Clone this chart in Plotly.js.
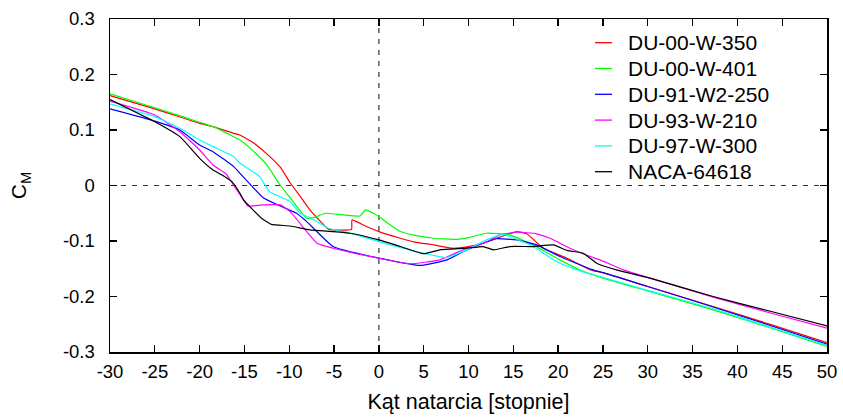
<!DOCTYPE html>
<html>
<head>
<meta charset="utf-8">
<script src="https://cdn.plot.ly/plotly-3.0.1.min.js"></script>
<style>html,body{margin:0;padding:0;background:#fff;}#chart{width:843px;height:417px;}</style>
</head>
<body>
<div id="chart"></div>
<script>
const seriesNames = ["DU-00-W-350", "DU-00-W-401", "DU-91-W2-250", "DU-93-W-210", "DU-97-W-300", "NACA-64618"];
const seriesColors = ["#ff0000", "#00ff00", "#0000ff", "#ff00ff", "#00ffff", "#000000"];

const du00w350_x = [-30, -25, -20, -18.5, -16.2, -15.5, -14, -12.5, -11, -9.9, -8.4, -7.7, -6.5, -5.6, -3.05, -3.0, -1.5, 0, 2.4, 4, 6.1, 8.2, 10, 11.65, 13.5, 15.4, 16.5, 18.35, 21, 23.6, 25, 30, 37.3, 44, 50];
const du00w350_y = [0.162, 0.138, 0.112, 0.106, 0.094, 0.091, 0.077, 0.057, 0.033, 0.005, -0.028, -0.044, -0.065, -0.079, -0.079, -0.062, -0.073, -0.083, -0.095, -0.102, -0.107, -0.113, -0.110, -0.104, -0.093, -0.083, -0.087, -0.113, -0.131, -0.152, -0.157, -0.182, -0.218, -0.252, -0.283];

const du00w401_x = [-30, -25, -20, -18.5, -16.2, -15.5, -14, -12.5, -11, -9.9, -8.05, -7.1, -6.0, -4, -2.1, -1.5, -0.5, 0, 1, 2.4, 4, 6.1, 8.7, 10, 12.0, 14.6, 17.2, 20.2, 22.4, 24.67, 30, 37.3, 44, 50];
const du00w401_y = [0.165, 0.140, 0.114, 0.106, 0.088, 0.082, 0.062, 0.037, 0.000, -0.022, -0.059, -0.057, -0.050, -0.053, -0.055, -0.044, -0.051, -0.056, -0.068, -0.083, -0.090, -0.095, -0.097, -0.094, -0.086, -0.089, -0.107, -0.134, -0.152, -0.165, -0.190, -0.224, -0.258, -0.290];

const du91w2250_x = [-30, -25, -22.2, -20, -18.5, -16.2, -15.5, -12.9, -11.0, -9.2, -8.05, -5.1, 0, 4.6, 7.6, 9.8, 11.65, 13.1, 15.4, 17.6, 20.2, 23.9, 25, 30, 37.3, 44, 50];
const du91w2250_y = [0.138, 0.116, 0.100, 0.073, 0.061, 0.034, 0.022, -0.022, -0.037, -0.050, -0.065, -0.110, -0.131, -0.144, -0.134, -0.116, -0.104, -0.096, -0.098, -0.107, -0.128, -0.152, -0.157, -0.182, -0.219, -0.254, -0.286];

const du93w210_x = [-30, -25, -22.2, -20, -18.5, -17.0, -16.6, -15.1, -14.6, -13, -11.0, -9.9, -6.9, -5.1, 0, 3.5, 6.8, 9.8, 11.65, 13.5, 15.4, 17.6, 19.1, 21.3, 23.6, 24.67, 27.3, 30.25, 37.3, 44, 50];
const du93w210_y = [0.152, 0.127, 0.097, 0.064, 0.037, 0.020, 0.010, -0.026, -0.037, -0.035, -0.035, -0.047, -0.104, -0.113, -0.131, -0.141, -0.134, -0.113, -0.104, -0.089, -0.084, -0.087, -0.095, -0.113, -0.128, -0.134, -0.152, -0.167, -0.201, -0.231, -0.257];

const du97w300_x = [-30, -25, -22.2, -20, -18.5, -16.2, -15.5, -13.3, -12.2, -9.9, -8.8, -7.7, -5.6, -3.2, 0, 4.2, 7.5, 9.8, 12.0, 13.9, 17.2, 19.8, 22.1, 24.67, 30, 37.3, 44, 50];
const du97w300_y = [0.147, 0.124, 0.103, 0.082, 0.070, 0.052, 0.040, 0.016, -0.011, -0.029, -0.050, -0.058, -0.077, -0.086, -0.101, -0.119, -0.130, -0.116, -0.098, -0.088, -0.110, -0.137, -0.152, -0.164, -0.189, -0.222, -0.257, -0.288];

const naca64618_x = [-30, -25, -22.2, -20, -18.5, -17.5, -16.4, -15.5, -15.1, -13.1, -12.0, -9.9, -7.7, -5.1, -3.2, 0, 2.4, 5.0, 6.8, 9.8, 11.65, 12.8, 14.6, 17.2, 19.5, 21.0, 22.8, 24.3, 26.5, 30.25, 37.3, 44, 50];
const naca64618_y = [0.155, 0.115, 0.088, 0.049, 0.028, 0.019, 0.007, -0.014, -0.026, -0.059, -0.070, -0.073, -0.080, -0.083, -0.086, -0.098, -0.110, -0.123, -0.116, -0.113, -0.110, -0.116, -0.110, -0.110, -0.107, -0.117, -0.122, -0.140, -0.152, -0.167, -0.200, -0.228, -0.253];

const xTickVals = [-30, -25, -20, -15, -10, -5, 0, 5, 10, 15, 20, 25, 30, 35, 40, 45, 50];
const xTickText = ["-30", "-25", "-20", "-15", "-10", "-5", "0", "5", "10", "15", "20", "25", "30", "35", "40", "45", "50"];
const yTickVals = [-0.3, -0.2, -0.1, 0, 0.1, 0.2, 0.3];
const yTickText = ["-0.3", "-0.2", "-0.1", "0", "0.1", "0.2", "0.3"];

const xs = [du00w350_x, du00w401_x, du91w2250_x, du93w210_x, du97w300_x, naca64618_x];
const ys = [du00w350_y, du00w401_y, du91w2250_y, du93w210_y, du97w300_y, naca64618_y];

const FONT = "Liberation Sans, Arial, Helvetica, sans-serif";

const traces = seriesNames.map((n, i) => ({
  type: "scatter",
  mode: "lines",
  name: n,
  x: xs[i],
  y: ys[i],
  line: {color: seriesColors[i], width: 1.2, shape: "spline", smoothing: 0.4}
}));

// key (legend) placed in the upper right of the plot area, drawn as text + short line samples
const W = 843, H = 417, ML = 110, MR = 16, MT = 19, MB = 65;
const pw = W - ML - MR, ph = H - MT - MB;
const keyTextX = (626 - ML) / pw;
const keyLineX0 = (595 - ML) / pw, keyLineX1 = (612 - ML) / pw;
const keyRow = (i) => (H - MB - (42.7 + i * 25.8)) / ph;

const annotations = seriesNames.map((n, i) => ({
  xref: "paper", yref: "paper", x: keyTextX, y: keyRow(i),
  xanchor: "left", yanchor: "middle", showarrow: false,
  text: n, font: {family: FONT, size: 21, color: "#000000"}
}));

const shapes = [
  {type: "line", xref: "x", yref: "paper", x0: 0, x1: 0, y0: 0, y1: 1, line: {color: "#333333", width: 1.2, dash: "5px,6px"}, layer: "below"},
  {type: "line", xref: "paper", yref: "y", x0: 0, x1: 1, y0: 0, y1: 0, line: {color: "#333333", width: 1.2, dash: "5px,6px"}, layer: "below"}
].concat(seriesNames.map((n, i) => ({
  type: "line", xref: "paper", yref: "paper",
  x0: keyLineX0, x1: keyLineX1, y0: keyRow(i), y1: keyRow(i),
  line: {color: seriesColors[i], width: 1.3}
})));

const layout = {
  width: W,
  height: H,
  margin: {l: ML, r: MR, t: MT, b: MB},
  paper_bgcolor: "#ffffff",
  plot_bgcolor: "#ffffff",
  font: {family: FONT, color: "#000000", size: 18.5},
  showlegend: false,
  xaxis: {
    range: [-30, 50],
    tickmode: "array",
    tickvals: xTickVals,
    ticktext: xTickText,
    ticks: "inside",
    ticklen: 7,
    tickwidth: 1.3,
    tickcolor: "#000000",
    mirror: "allticks",
    showline: true,
    linecolor: "#000000",
    linewidth: 1.5,
    showgrid: false,
    zeroline: false,
    tickfont: {family: FONT, size: 18.5, color: "#000000"},
    ticklabelstandoff: 2,
    title: {text: "Kąt natarcia [stopnie]", font: {family: FONT, size: 21.5, color: "#000000"}, standoff: 13}
  },
  yaxis: {
    range: [-0.3, 0.3],
    tickmode: "array",
    tickvals: yTickVals,
    ticktext: yTickText,
    ticks: "inside",
    ticklen: 7,
    tickwidth: 1.3,
    tickcolor: "#000000",
    mirror: "allticks",
    showline: true,
    linecolor: "#000000",
    linewidth: 1.5,
    showgrid: false,
    zeroline: false,
    tickfont: {family: FONT, size: 18.5, color: "#000000"},
    ticklabelstandoff: 10,
    title: {text: "C<sub>M</sub>", font: {family: FONT, size: 21, color: "#000000"}, standoff: 30}
  },
  annotations: annotations,
  shapes: shapes
};

Plotly.newPlot("chart", traces, layout, {staticPlot: true, displayModeBar: false});
</script>
</body>
</html>
